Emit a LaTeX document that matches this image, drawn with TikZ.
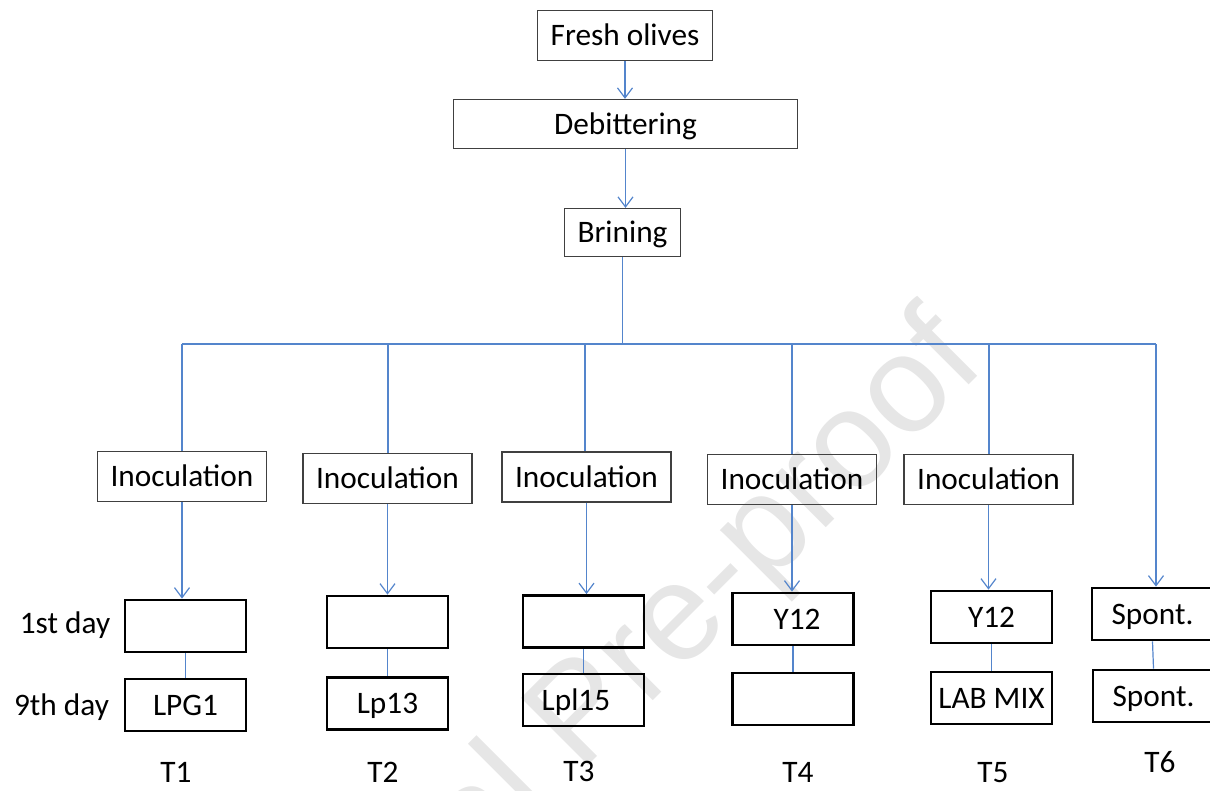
\documentclass[tikz,border=0pt]{standalone}
\usepackage{fontspec}
\setmainfont{Carlito}
\newfontfamily\wmfont{Liberation Sans}
\usetikzlibrary{arrows.meta}
\definecolor{linkblue}{RGB}{84,133,204}
\definecolor{boxgray}{RGB}{64,64,64}
\definecolor{wmgray}{RGB}{230,230,230}
\begin{document}
\begin{tikzpicture}[x=1pt,y=-1pt,
  txt/.style={font=\fontsize{31.3}{36}\selectfont, inner sep=0pt, text height=20pt, text depth=0pt},
  procbox/.style={txt, draw=boxgray, line width=1.3pt},
  inocbox/.style={procbox, minimum width=169pt, minimum height=50pt},
  daybox/.style={txt, draw=black, line width=2.8pt, minimum width=121pt, minimum height=52pt},
  link/.style={draw=linkblue, line width=1.2pt},
  flow/.style={link, -{Straight Barb[length=10pt,width=15pt]}}]
\useasboundingbox (0,0) rectangle (1210,790);
\begin{scope}
\clip (0,0) rectangle (1210,790);
% watermark
\node[rotate=45, anchor=base east, inner sep=0pt, text=wmgray,
      font=\wmfont\fontsize{138}{145}\selectfont] (wm) at (988,366) {Journal Pre-proof};
% top chain
\node[procbox, minimum width=175pt, minimum height=50pt] (fresh) at (625,35.5) {Fresh olives};
\node[procbox, minimum width=344pt, minimum height=49pt] (deb) at (625.5,124) {Debittering};
\node[procbox, minimum width=116pt, minimum height=48pt] (brine) at (622.5,232.5) {Brining};
% inoculation boxes
\node[inocbox] (i1) at (182,476.5) {Inoculation};
\node[inocbox] (i2) at (387.5,478.5) {Inoculation};
\node[inocbox] (i3) at (586.5,477) {Inoculation};
\node[inocbox] (i4) at (792,479.5) {Inoculation};
\node[inocbox] (i5) at (988.5,479.5) {Inoculation};
% day boxes
\node[daybox] (d1a) at (185.5,626) {};
\node[daybox] (d1b) at (185.5,705) {LPG1};
\node[daybox] (d2a) at (387.5,622) {};
\node[daybox] (d2b) at (387.5,703.5) {Lp13};
\node[daybox] (d3a) at (583.5,621.5) {};
\node[daybox] (d3b) at (583.5,700) {Lpl15\hspace*{15pt}};
\node[daybox] (d4a) at (793,619) {\hspace*{8pt}Y12};
\node[daybox] (d4b) at (793,699) {};
\node[daybox] (d5a) at (991.5,617) {Y12};
\node[daybox] (d5b) at (991.5,698) {LAB MIX};
\node[daybox] (d6a) at (1152.5,614) {Spont.};
\node[daybox] (d6b) at (1153.5,696) {Spont.};
% side and bottom labels
\node[txt] (l1) at (65,623) {1st day};
\node[txt] (l9) at (61.5,705) {9th day};
\node[txt] (t1) at (176,772) {T1};
\node[txt] (t2) at (383,772) {T2};
\node[txt] (t3) at (579,771) {T3};
\node[txt] (t4) at (798,772) {T4};
\node[txt] (t5) at (993,772) {T5};
\node[txt] (t6) at (1160,762) {T6};
% junctions
\coordinate (j1) at (182,344);
\coordinate (j2) at (388,344);
\coordinate (j3) at (585,344);
\coordinate (j4) at (792,344);
\coordinate (j5) at (989,344);
\coordinate (j6) at (1156,344);
% connectors
\draw[flow] (fresh.south) -- (fresh.south |- deb.north);
\draw[flow] (deb.south) -- (deb.south |- brine.north);
\draw[link] (brine.south) -- (brine.south |- j1);
\draw[link] (j1) -- (j6);
\draw[link] (j1) -- (j1 |- i1.north);
\draw[link] (j2) -- (j2 |- i2.north);
\draw[link] (j3) -- (j3 |- i3.north);
\draw[link] (j4) -- (j4 |- i4.north);
\draw[link] (j5) -- (j5 |- i5.north);
\draw[flow] (i1.south) -- (i1.south |- d1a.north);
\draw[flow] (i2.south) -- (i2.south |- d2a.north);
\draw[flow] (i3.south) -- (i3.south |- d3a.north);
\draw[flow] (i4.south) -- (i4.south |- d4a.north);
\draw[flow] (i5.south) -- (i5.south |- d5a.north);
\draw[flow] (j6) -- (j6 |- d6a.north);
\draw[link] (d1a.south) -- (d1b.north);
\draw[link] (d2a.south) -- (d2b.north);
\draw[link] (d3a.south) -- (d3b.north);
\draw[link] (d4a.south) -- (d4b.north);
\draw[link] (d5a.south) -- (d5b.north);
\draw[link] (d6a.south) -- (d6b.north);
\end{scope}
\end{tikzpicture}
\end{document}
